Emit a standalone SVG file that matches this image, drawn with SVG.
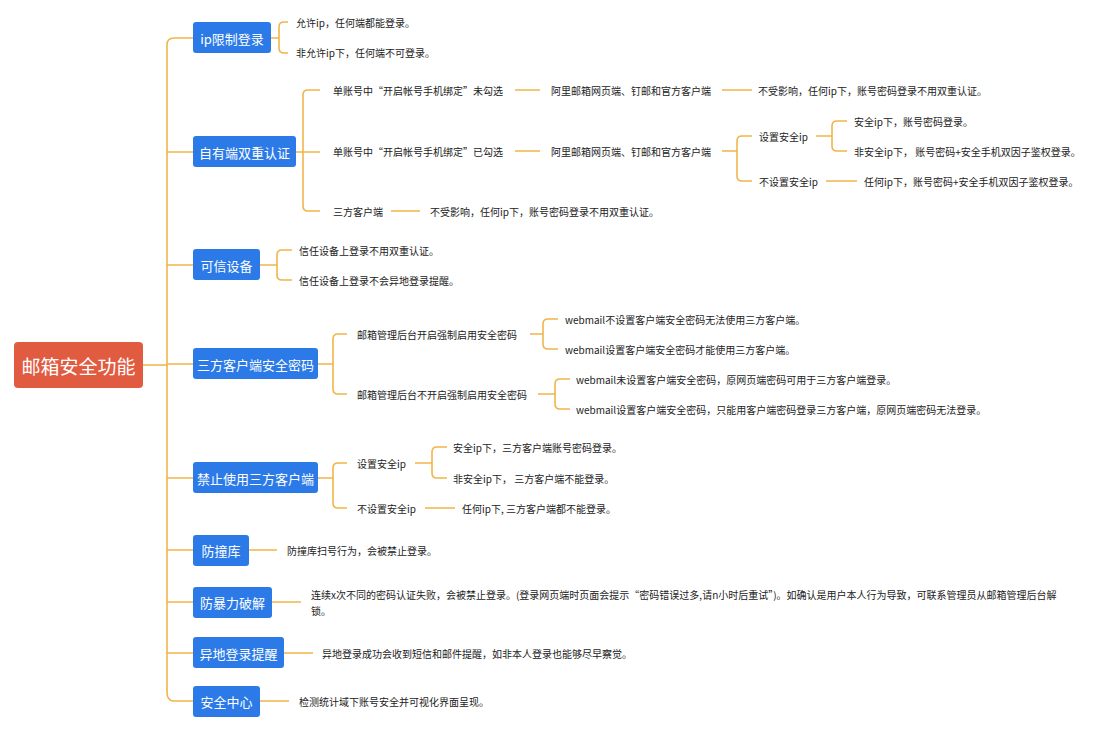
<svg xmlns="http://www.w3.org/2000/svg" width="1117" height="729" viewBox="0 0 1117 729">
<style>
.c{fill:none;stroke:#f0b54a;stroke-width:1.6}
.b{fill:#2b7ae8}
.bt{fill:#fff;font-family:"Noto Sans CJK SC","Liberation Sans",sans-serif;font-size:13px;dominant-baseline:central;text-anchor:middle}
.t{fill:#222;font-family:"Noto Sans CJK SC","Liberation Sans",sans-serif;font-size:10px;dominant-baseline:central}
</style>
<rect width="1117" height="729" fill="#fff"/>
<g id="connectors">
<path class="c" d="M143 365H167M167 45Q167 38 174 38H193M167 692Q167 701 174 701H193M167 45V692M167 152H193M167 265H193M167 364H193M167 478H193M167 550H193M167 602H193M167 653H193"/>
<path class="c" d="M271 38H279M288 22H284Q279 22 279 27V48Q279 53 284 53H288"/>
<path class="c" d="M296 152H320M320 90H308Q303 90 303 95V206Q303 211 308 211H320"/>
<path class="c" d="M515 90H540M515 151H540M722 90H752M722 151H737M752 136H742Q737 136 737 141V176Q737 181 742 181H752M816 136H832M847 121H837Q832 121 832 126V146Q832 151 837 151H847M826 181H857M391 211H420"/>
<path class="c" d="M260 265H277M292 250H282Q277 250 277 255V275Q277 280 282 280H292"/>
<path class="c" d="M318 364H333M347 334H338Q333 334 333 339V389Q333 394 338 394H347M530 334H543M558 319H548Q543 319 543 324V344Q543 349 548 349H558M538 394H555M570 379H560Q555 379 555 384V404Q555 409 560 409H570"/>
<path class="c" d="M318 478H333M347 463H338Q333 463 333 468V503Q333 508 338 508H347M415 463H432M447 447H437Q432 447 432 452V473Q432 478 437 478H447M425 508H455"/>
<path class="c" d="M249 550H277M272 602H301M284 653H313M260 701H289"/>
</g>
<g id="root"><rect x="14" y="342" width="129" height="46" rx="4" fill="#e15b41"/><text class="bt" x="78.5" y="365" style="font-size:19px">邮箱安全功能</text></g>
<g id="n1"><rect class="b" x="193" y="22" width="78" height="31" rx="3"/><text class="bt" x="232" y="38">ip限制登录</text></g>
<g id="n2"><rect class="b" x="193" y="136" width="103" height="31" rx="3"/><text class="bt" x="244.5" y="152">自有端双重认证</text></g>
<g id="n3"><rect class="b" x="193" y="249" width="67" height="31" rx="3"/><text class="bt" x="226.5" y="265">可信设备</text></g>
<g id="n4"><rect class="b" x="193" y="348" width="125" height="31" rx="3"/><text class="bt" x="255.5" y="364">三方客户端安全密码</text></g>
<g id="n5"><rect class="b" x="193" y="462" width="125" height="31" rx="3"/><text class="bt" x="255.5" y="478">禁止使用三方客户端</text></g>
<g id="n6"><rect class="b" x="193" y="535" width="56" height="31" rx="3"/><text class="bt" x="221" y="550">防撞库</text></g>
<g id="n7"><rect class="b" x="193" y="587" width="79" height="31" rx="3"/><text class="bt" x="232.5" y="602">防暴力破解</text></g>
<g id="n8"><rect class="b" x="193" y="637" width="91" height="31" rx="3"/><text class="bt" x="238.5" y="653">异地登录提醒</text></g>
<g id="n9"><rect class="b" x="193" y="686" width="67" height="31" rx="3"/><text class="bt" x="226.5" y="701">安全中心</text></g>
<g id="leaves">
<text class="t" x="296" y="22">允许ip，任何端都能登录。</text>
<text class="t" x="296" y="52">非允许ip下，任何端不可登录。</text>
<text class="t" x="333" y="90">单账号中“开启帐号手机绑定”未勾选</text>
<text class="t" x="333" y="151">单账号中“开启帐号手机绑定”已勾选</text>
<text class="t" x="333" y="211">三方客户端</text>
<text class="t" x="551" y="90">阿里邮箱网页端、钉邮和官方客户端</text>
<text class="t" x="551" y="151">阿里邮箱网页端、钉邮和官方客户端</text>
<text class="t" x="758" y="90">不受影响，任何ip下，账号密码登录不用双重认证。</text>
<text class="t" x="759" y="136">设置安全ip</text>
<text class="t" x="759" y="181">不设置安全ip</text>
<text class="t" x="854" y="121">安全ip下，账号密码登录。</text>
<text class="t" x="854" y="151">非安全ip下， 账号密码+安全手机双因子鉴权登录。</text>
<text class="t" x="864" y="181">任何ip下，账号密码+安全手机双因子鉴权登录。</text>
<text class="t" x="430" y="211">不受影响，任何ip下，账号密码登录不用双重认证。</text>
<text class="t" x="299" y="250">信任设备上登录不用双重认证。</text>
<text class="t" x="299" y="280">信任设备上登录不会异地登录提醒。</text>
<text class="t" x="357" y="334">邮箱管理后台开启强制启用安全密码</text>
<text class="t" x="357" y="394">邮箱管理后台不开启强制启用安全密码</text>
<text class="t" x="565" y="319">webmail不设置客户端安全密码无法使用三方客户端。</text>
<text class="t" x="565" y="349">webmail设置客户端安全密码才能使用三方客户端。</text>
<text class="t" x="576" y="379">webmail未设置客户端安全密码，原网页端密码可用于三方客户端登录。</text>
<text class="t" x="576" y="409">webmail设置客户端安全密码，只能用客户端密码登录三方客户端，原网页端密码无法登录。</text>
<text class="t" x="357" y="463">设置安全ip</text>
<text class="t" x="357" y="508">不设置安全ip</text>
<text class="t" x="453" y="447">安全ip下，三方客户端账号密码登录。</text>
<text class="t" x="453" y="478">非安全ip下， 三方客户端不能登录。</text>
<text class="t" x="462" y="508">任何ip下, 三方客户端都不能登录。</text>
<text class="t" x="287" y="550">防撞库扫号行为，会被禁止登录。</text>
<text class="t" x="311" y="594">连续x次不同的密码认证失败，会被禁止登录。(登录网页端时页面会提示“密码错误过多,请n小时后重试”)。如确认是用户本人行为导致，可联系管理员从邮箱管理后台解</text>
<text class="t" x="311" y="610">锁。</text>
<text class="t" x="322" y="653">异地登录成功会收到短信和邮件提醒，如非本人登录也能够尽早察觉。</text>
<text class="t" x="299" y="701">检测统计域下账号安全并可视化界面呈现。</text>
</g>
</svg>
